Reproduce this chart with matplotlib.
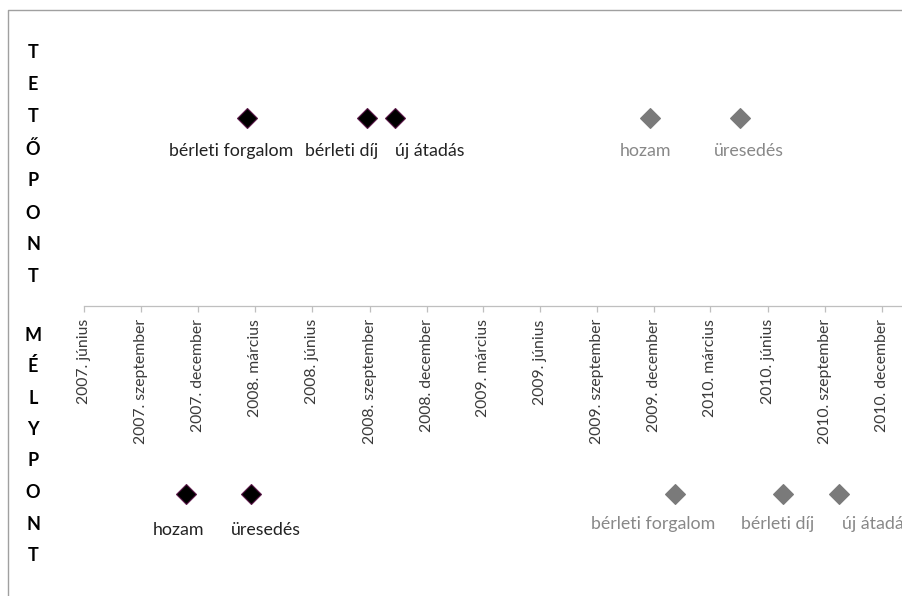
import matplotlib
matplotlib.use("Agg")
import matplotlib.pyplot as plt
import matplotlib.dates as mdates
from matplotlib.lines import Line2D
import numpy as np
from datetime import date

plt.rcParams['font.family'] = ['Lato', 'DejaVu Sans']

# tick marks of the date axis (every 3 months)
tick_dates = [date(2007, 6, 1), date(2007, 9, 1), date(2007, 12, 1),
              date(2008, 3, 1), date(2008, 6, 1), date(2008, 9, 1), date(2008, 12, 1),
              date(2009, 3, 1), date(2009, 6, 1), date(2009, 9, 1), date(2009, 12, 1),
              date(2010, 3, 1), date(2010, 6, 1), date(2010, 9, 1), date(2010, 12, 1)]
tick_labels = ["2007. június", "2007. szeptember", "2007. december",
               "2008. március", "2008. június", "2008. szeptember", "2008. december",
               "2009. március", "2009. június", "2009. szeptember", "2009. december",
               "2010. március", "2010. június", "2010. szeptember", "2010. december"]

# csúcspontok (tetőpont = +1)
top_black_names = ["bérleti forgalom", "bérleti díj", "új átadás"]
top_black_dates = [date(2008, 2, 17), date(2008, 8, 27), date(2008, 10, 11)]
top_gray_names = ["hozam", "üresedés"]
top_gray_dates = [date(2009, 11, 24), date(2010, 4, 17)]

# mélypontok (= -1)
bot_black_names = ["hozam", "üresedés"]
bot_black_dates = [date(2007, 11, 11), date(2008, 2, 24)]
bot_gray_names = ["bérleti forgalom", "bérleti díj", "új átadás"]
bot_gray_dates = [date(2010, 1, 3), date(2010, 6, 25), date(2010, 9, 23)]

# label nudges (pixels), labels were dragged by hand in the original
top_black_dx = [-16, -25, 35]
top_gray_dx = [-4, 9]
bot_black_dx = [-7, 15]
bot_gray_dx = [-22, -5, 38]

W, H = 902, 596
fig = plt.figure(figsize=(W / 100, H / 100), dpi=100)

x0 = date(2007, 6, 1)
x1 = date(2011, 1, 1)
left_px, right_px = 84, 901.3
top_px, bot_px = 24, 588
ax = fig.add_axes([left_px / W, 1 - bot_px / H, (right_px - left_px) / W, (bot_px - top_px) / H])
ax.set_xlim(mdates.date2num(x0), mdates.date2num(x1))
ax.set_ylim(-1.5, 1.5)
ax.patch.set_alpha(0)

for s in ['top', 'left', 'right']:
    ax.spines[s].set_visible(False)
ax.spines['bottom'].set_position(('data', 0))
ax.spines['bottom'].set_color('#bfbfbf')
ax.spines['bottom'].set_linewidth(0.9)
ax.set_yticks([])
ax.set_xticks(mdates.date2num(tick_dates))
ax.set_xticklabels(tick_labels, rotation=90, va='top', ha='center')
ax.tick_params(axis='x', direction='out', length=4.5, width=0.9, color='#bfbfbf',
               labelsize=11.3, labelcolor='#3a3a3a', pad=5)

black_text = '#222222'
gray_text = '#888888'


def draw(names, dates, yv, dx, dy, mcol, ecol, tcol):
    xs = mdates.date2num(dates)
    ax.plot(xs, [yv] * len(xs), linestyle='none', marker='D', markersize=10,
            markerfacecolor=mcol, markeredgecolor=ecol, markeredgewidth=0.8)
    for n, xx, d in zip(names, xs, dx):
        ax.annotate(n, (xx, yv), xytext=(d, dy), textcoords='offset pixels',
                    ha='center', va='center', fontsize=12.8, color=tcol,
                    annotation_clip=False)


draw(top_black_names, top_black_dates, 1, top_black_dx, -33, 'black', '#5a1748', black_text)
draw(top_gray_names, top_gray_dates, 1, top_gray_dx, -33, '#7a7a7a', '#7a7a7a', gray_text)
draw(bot_black_names, bot_black_dates, -1, bot_black_dx, -36, 'black', '#5a1748', black_text)
draw(bot_gray_names, bot_gray_dates, -1, bot_gray_dx, -30, '#7a7a7a', '#7a7a7a', gray_text)

# vertical captions on the left
for i, ch in enumerate("TETŐPONT"):
    fig.text(33 / W, 1 - (53 + 32 * i) / H, ch, ha='center', va='center',
             fontsize=13, fontweight='bold', color='black')
for i, ch in enumerate("MÉLYPONT"):
    fig.text(33 / W, 1 - (335 + 31.5 * i) / H, ch, ha='center', va='center',
             fontsize=13, fontweight='bold', color='black')

# chart frame (cropped on right/bottom)
fig.add_artist(Line2D([8 / W, 8 / W, 1.0], [0.0, 1 - 10 / H, 1 - 10 / H],
                      transform=fig.transFigure, color='#a0a0a0', linewidth=1.0))

fig.savefig('out.png', dpi=100)
